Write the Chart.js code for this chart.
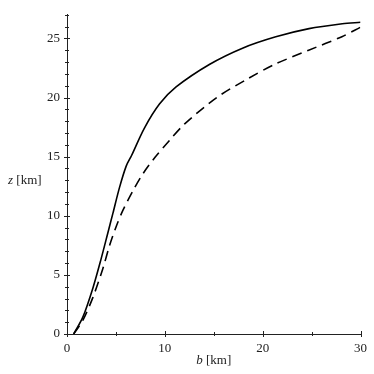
<!DOCTYPE html>
<html>
<head>
<meta charset="utf-8">
<style>
  html, body { margin: 0; padding: 0; background: #fff; }
  #wrap { width: 374px; height: 374px; }
</style>
<script src="https://cdn.jsdelivr.net/npm/chart.js@4/dist/chart.umd.min.js"></script>
</head>
<body>
<div id="wrap"><canvas id="plot" width="374" height="374"></canvas></div>
<script>
// data
const solidB = [0.68, 1.63, 2.65, 3.5, 4.18, 4.69, 5.37, 6.05, 6.6, 7.9, 9.45, 11.15, 14.55, 17.94, 21.34, 24.74, 28.14, 30.0];
const solidZ = [0, 1.45, 3.9, 6.4, 8.57, 10.2, 12.4, 14.2, 15.1, 17.4, 19.45, 20.9, 22.8, 24.18, 25.14, 25.83, 26.24, 26.37];
const dashedB = [0.68, 1.63, 2.65, 3.67, 4.35, 5.04, 5.71, 6.73, 7.8, 9.0, 10.5, 12.0, 15.3, 18.5, 21.2, 24.7, 28.1, 30.0];
const dashedZ = [0, 1.18, 3.1, 5.55, 7.48, 9.12, 10.45, 12.1, 13.6, 14.95, 16.4, 17.75, 20.0, 21.6, 22.8, 24.0, 25.15, 25.95];
const xTicks = [0, 10, 20, 30];
const yTicks = [0, 5, 10, 15, 20, 25];

const font = "'Liberation Serif', 'Times New Roman', serif";

function pts(xs, ys) {
    return xs.map((x, i) => ({ x: x, y: ys[i] }));
}

// small tick marks across the axes and horizontal axis titles
const axisMarks = {
    id: "axisMarks",
    afterDraw(chart) {
        const c = chart.ctx;
        const xs = chart.scales.x;
        const ys = chart.scales.y;
        const x0 = xs.getPixelForValue(0);
        const y0 = ys.getPixelForValue(0);
        c.save();
        c.strokeStyle = "#222";
        c.lineWidth = 1;
        for (let v = 0; v <= 27; v++) {
            const p = Math.round(ys.getPixelForValue(v)) + 0.5;
            const len = v % 5 === 0 ? 3 : 2;
            c.beginPath();
            c.moveTo(x0 - len, p);
            c.lineTo(x0 + len, p);
            c.stroke();
        }
        for (let v = 0; v <= 30; v += 5) {
            const p = Math.round(xs.getPixelForValue(v)) + 0.5;
            const len = v % 10 === 0 ? 3 : 2;
            c.beginPath();
            c.moveTo(p, y0 - len);
            c.lineTo(p, y0 + len);
            c.stroke();
        }
        c.fillStyle = "#222";
        c.textBaseline = "middle";
        // y title
        c.font = "italic 13px " + font;
        c.textAlign = "left";
        let tx = 8;
        c.fillText("z", tx, 181);
        tx += c.measureText("z ").width;
        c.font = "13px " + font;
        c.fillText("[km]", tx, 181);
        // x title
        c.font = "italic 13px " + font;
        const w1 = c.measureText("b ").width;
        c.font = "13px " + font;
        const w2 = c.measureText("[km]").width;
        const cx = (chart.chartArea.left + chart.chartArea.right) / 2;
        const sx = cx - (w1 + w2) / 2;
        c.font = "italic 13px " + font;
        c.fillText("b", sx, 361);
        c.font = "13px " + font;
        c.fillText("[km]", sx + w1, 361);
        c.restore();
    }
};

new Chart(document.getElementById("plot"), {
    type: "scatter",
    data: {
        datasets: [
            {
                data: pts(solidB, solidZ),
                showLine: true,
                borderColor: "#000",
                borderWidth: 1.6,
                pointRadius: 0,
                tension: 0.3
            },
            {
                data: pts(dashedB, dashedZ),
                showLine: true,
                borderColor: "#000",
                borderWidth: 1.6,
                borderDash: [10, 6],
                pointRadius: 0,
                tension: 0.3
            }
        ]
    },
    options: {
        responsive: false,
        animation: false,
        events: [],
        layout: { padding: { top: 5, right: 12, left: 0, bottom: 0 } },
        plugins: {
            legend: { display: false },
            tooltip: { enabled: false }
        },
        scales: {
            x: {
                type: "linear",
                min: 0,
                max: 30,
                afterFit(s) { s.height = 40; },
                afterBuildTicks(s) { s.ticks = xTicks.map(v => ({ value: v })); },
                grid: { drawOnChartArea: false, drawTicks: false },
                border: { display: true, color: "#222", width: 1 },
                ticks: {
                    padding: 7,
                    color: "#222",
                    font: { family: font, size: 13 }
                }
            },
            y: {
                type: "linear",
                min: 0,
                max: 27,
                afterFit(s) { s.width = 67; },
                afterBuildTicks(s) { s.ticks = yTicks.map(v => ({ value: v })); },
                grid: { drawOnChartArea: false, drawTicks: false },
                border: { display: true, color: "#222", width: 1 },
                ticks: {
                    padding: 7,
                    color: "#222",
                    font: { family: font, size: 13 }
                }
            }
        }
    },
    plugins: [axisMarks]
});
</script>
</body>
</html>
